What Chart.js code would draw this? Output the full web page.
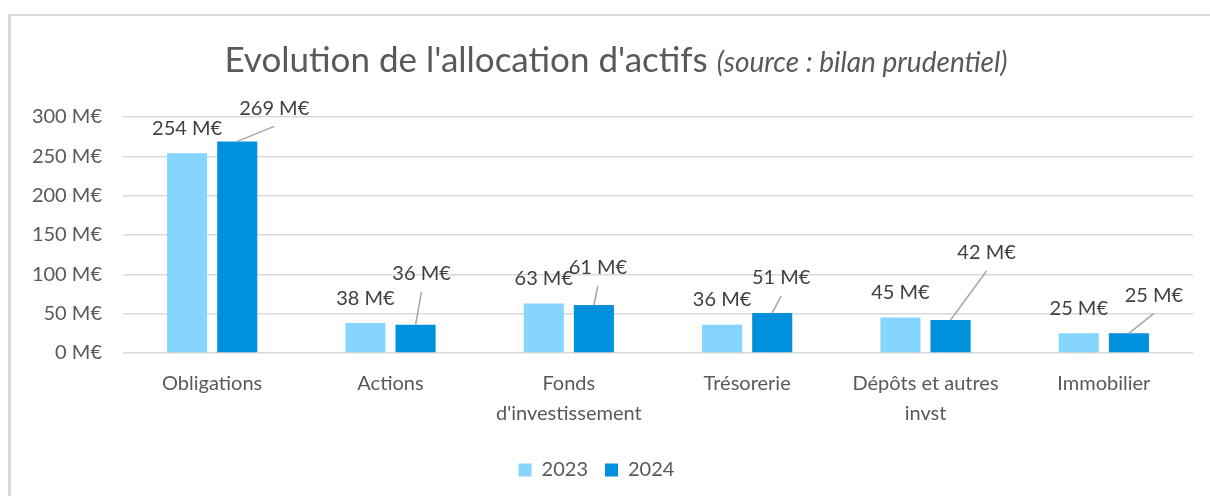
<!DOCTYPE html>
<html>
<head>
<meta charset="utf-8">
<script src="https://cdn.jsdelivr.net/npm/chart.js@4/dist/chart.umd.min.js"></script>
<style>
  html, body { margin: 0; padding: 0; background: #fff; }
  #frame {
    position: absolute; left: 8px; top: 14px; width: 1202px; height: 482px;
    border-left: 3px solid #d9d9d9; border-top: 2px solid #d9d9d9;
    box-sizing: border-box;
  }
  #wrap { position: absolute; left: 0; top: 0; width: 1210px; height: 496px; }
</style>
</head>
<body>
<div id="frame"></div>
<div id="wrap"><canvas id="allocation-chart" width="1210" height="496"></canvas></div>
<script>
// Data
const categories = ['Obligations', 'Actions', ['Fonds', "d'investissement"], 'Trésorerie', ['Dépôts et autres', 'invst'], 'Immobilier'];
const seriesNames = ['2023', '2024'];
const values2023 = [254, 38, 63, 36, 45, 25];
const values2024 = [269, 36, 61, 51, 42, 25];
const unit = ' M€';

// Label placement (pixels, relative to bar top) - 2024 labels were moved by hand, with leader lines
const labelShift2023 = [0, 0, 0, 0, 0, 0];
const labelShift2024 = [[37, -33], [6, -51], [4, -37], [9, -35], [36, -67], [25, -38]];

const textGrey = '#595959';
const fontName = 'Lato, "Open Sans", sans-serif';

// Title with italic source note
const titlePlugin = {
  id: 'titleDraw',
  afterDraw(chart) {
    const ctx = chart.ctx;
    const main = "Evolution de l'allocation d'actifs ";
    const note = '(source : bilan prudentiel)';
    ctx.save();
    ctx.fillStyle = textGrey;
    ctx.textBaseline = 'alphabetic';
    ctx.font = '35px ' + fontName;
    const w1 = ctx.measureText(main).width;
    ctx.font = 'italic 28px ' + fontName;
    const w2 = ctx.measureText(note).width;
    let x = 616 - (w1 + w2) / 2;
    ctx.textAlign = 'left';
    ctx.font = '35px ' + fontName;
    ctx.fillText(main, x, 72);
    ctx.font = 'italic 28px ' + fontName;
    ctx.fillText(note, x + w1, 72);
    ctx.restore();
  }
};

// Data labels
const labelPlugin = {
  id: 'barLabels',
  afterDatasetsDraw(chart) {
    const ctx = chart.ctx;
    ctx.save();
    ctx.font = '20px ' + fontName;
    ctx.textAlign = 'center';
    ctx.textBaseline = 'middle';
    chart.data.datasets.forEach((ds, di) => {
      const meta = chart.getDatasetMeta(di);
      meta.data.forEach((bar, i) => {
        const txt = ds.data[i] + unit;
        let tx, ty;
        if (di === 0) {
          tx = bar.x + labelShift2023[i];
          ty = bar.y - 25;
        } else {
          tx = bar.x + labelShift2024[i][0];
          ty = bar.y + labelShift2024[i][1];
          ctx.strokeStyle = '#a6a6a6';
          ctx.lineWidth = 1.5;
          ctx.beginPath();
          ctx.moveTo(bar.x, bar.y);
          ctx.lineTo(tx, ty + 18);
          ctx.stroke();
        }
        ctx.fillStyle = '#404040';
        ctx.fillText(txt, tx, ty);
      });
    });
    ctx.restore();
  }
};

const data = {
  labels: categories,
  datasets: [
    {
      label: seriesNames[0],
      data: values2023,
      backgroundColor: '#85D5FF',
      categoryPercentage: 0.562,
      barPercentage: 0.8
    },
    {
      label: seriesNames[1],
      data: values2024,
      backgroundColor: '#0090DC',
      categoryPercentage: 0.562,
      barPercentage: 0.8
    }
  ]
};

const config = {
  type: 'bar',
  data: data,
  options: {
    responsive: false,
    animation: false,
    layout: { padding: { top: 117, right: 17, left: 0, bottom: 6 } },
    plugins: {
      legend: {
        position: 'bottom',
        labels: {
          color: textGrey,
          font: { family: fontName, size: 20 },
          boxWidth: 13,
          boxHeight: 13,
          padding: 17
        }
      },
      title: { display: false },
      tooltip: { enabled: false }
    },
    scales: {
      x: {
        grid: { display: false },
        border: { display: false },
        ticks: {
          color: textGrey,
          font: { family: fontName, size: 20, lineHeight: 1.5 },
          padding: 8,
          maxRotation: 0,
          autoSkip: false
        },
        afterFit(scale) { scale.height = 90; }
      },
      y: {
        min: 0,
        max: 300,
        border: { display: false },
        grid: { color: '#d9d9d9', lineWidth: 1.5, drawTicks: false },
        ticks: {
          stepSize: 50,
          color: textGrey,
          font: { family: fontName, size: 20 },
          padding: 21,
          callback: v => v + unit
        },
        afterFit(scale) { scale.width = 123; }
      }
    }
  },
  plugins: [titlePlugin, labelPlugin]
};

window.addEventListener('load', () => {
  const ctx = document.getElementById('allocation-chart').getContext('2d');
  new Chart(ctx, config);
});
</script>
</body>
</html>
